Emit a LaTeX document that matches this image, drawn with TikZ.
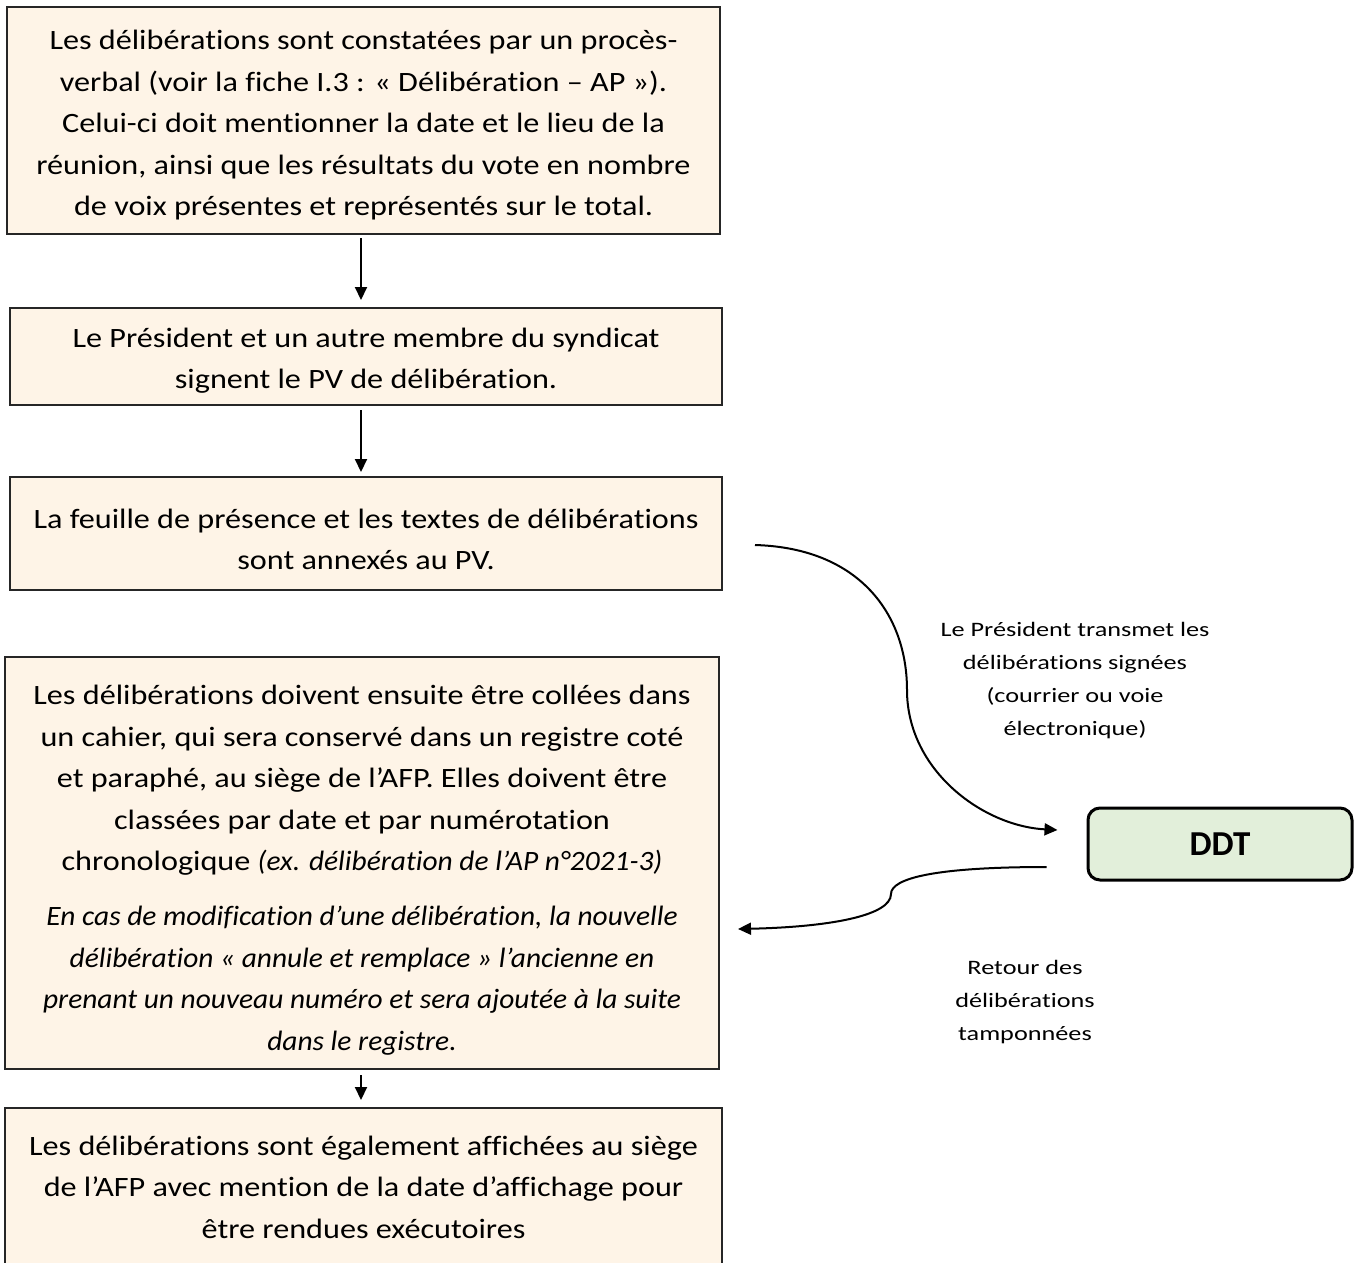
\documentclass[tikz,border=0pt]{standalone}
\usepackage{fontspec}
\setmainfont{Carlito}[Ligatures=NoCommon,UprightFeatures={FakeStretch=1.15},ItalicFeatures={FakeStretch=1.05}]
\newfontfamily\lblfont{Carlito}[Ligatures=NoCommon,FakeStretch=1.28]
\newfontfamily\ddtfont{Carlito}[Ligatures=NoCommon]
\usetikzlibrary{arrows.meta,calc}
\definecolor{boxfill}{HTML}{FEF4E7}
\definecolor{ddtfill}{HTML}{E2EFDA}
\begin{document}
\begin{tikzpicture}[x=1pt,y=-1pt,
  box/.style={draw=black!85,line width=2pt,fill=boxfill,inner sep=0pt,outer sep=0pt},
  txt/.style={inner sep=0pt,align=center,font=\fontsize{28}{41.5}\selectfont},
  arr/.style={line width=2pt,-{Triangle[length=13pt,width=12pt]}},
  lbl/.style={align=center,font=\lblfont\fontsize{20.5}{33}\selectfont}]
\useasboundingbox[fill=white] (0,0) rectangle (1355,1262);

\node[box,minimum width=713pt,minimum height=227pt] (b1) at (363.5,120.5) {};
\node[txt] (x1) at ($(b1.center)+(0,5)$)
 {Les délibérations sont constatées par un procès-\\
  verbal (voir la fiche I.3~: «~Délibération – AP~»).\\
  Celui-ci doit mentionner la date et le lieu de la\\
  réunion, ainsi que les résultats du vote en nombre\\
  de voix présentes et représentés sur le total.};

\node[box,minimum width=712pt,minimum height=97pt] (b2) at (366,356.5) {};
\node[txt] (x2) at ($(b2.center)+(0,4)$)
 {Le Président et un autre membre du syndicat\\
  signent le PV de délibération.};

\node[box,minimum width=712pt,minimum height=113pt] (b3) at (366,533.5) {};
\node[txt] (x3) at ($(b3.center)+(0,6)$)
 {La feuille de présence et les textes de délibérations\\
  sont annexés au PV.};

\node[box,minimum width=714pt,minimum height=412pt] (b4) at (362,863) {};
\node[txt] (x4) at ($(b4.center)+(0,7)$)
 {Les délibérations doivent ensuite être collées dans\\
  un cahier, qui sera conservé dans un registre coté\\
  et paraphé, au siège de l’AFP. Elles doivent être\\
  classées par date et par numérotation\\
  chronologique \textit{(ex. délibération de l’AP n°2021-3)}\\[13.5pt]
  \textit{En cas de modification d’une délibération, la nouvelle}\\
  \textit{délibération «~annule et remplace~» l’ancienne en}\\
  \textit{prenant un nouveau numéro et sera ajoutée à la suite}\\
  \textit{dans le registre.}};

\node[box,minimum width=717pt,minimum height=158pt] (b5) at (363.5,1187) {};
\node[txt] (x5) at (b5.center)
 {Les délibérations sont également affichées au siège\\
  de l’AFP avec mention de la date d’affichage pour\\
  être rendues exécutoires};

\node[draw=black,line width=3pt,fill=ddtfill,rounded corners=12pt,minimum width=264pt,minimum height=72pt,inner sep=0pt,font=\ddtfont\fontsize{35}{40}\selectfont\bfseries] (ddt) at (1220,844) {DDT};

\node[lbl] (l1) at (1075,681) {Le Président transmet les\\délibérations signées\\(courrier ou voie\\électronique)};
\node[lbl] (l2) at (1025,1002) {Retour des\\délibérations\\tamponnées};

\draw[arr,shorten <=4pt,shorten >=8pt] ([xshift=-2.5pt]b1.south) -- ([xshift=-2.5pt]b1.south |- b2.north);
\draw[arr,shorten <=5pt,shorten >=5pt] ([xshift=-5pt]b2.south) -- ([xshift=-5pt]b2.south |- b3.north);
\draw[arr,shorten <=6pt,shorten >=8pt] ([xshift=-1pt]b4.south) -- ([xshift=-1pt]b4.south |- b5.north);

\coordinate (t1) at ($(b3.east)+(33,11.5)$);
\coordinate (m1) at (907,690);
\coordinate (t2) at ($(ddt.west)+(-29,-14)$);
\draw[arr] (t1) .. controls +(105,3) and +(0,-75) .. (m1) .. controls +(0,80) and +(-75,-4) .. (t2);

\coordinate (r1) at ($(ddt.west)+(-40,23)$);
\coordinate (m2) at (891,894);
\coordinate (r2) at ($(b4.east)+(19,66)$);
\draw[arr] (r1) .. controls +(-110,0) and +(0,-16) .. (m2) .. controls +(0,22) and +(90,-2) .. (r2);
\end{tikzpicture}
\end{document}
